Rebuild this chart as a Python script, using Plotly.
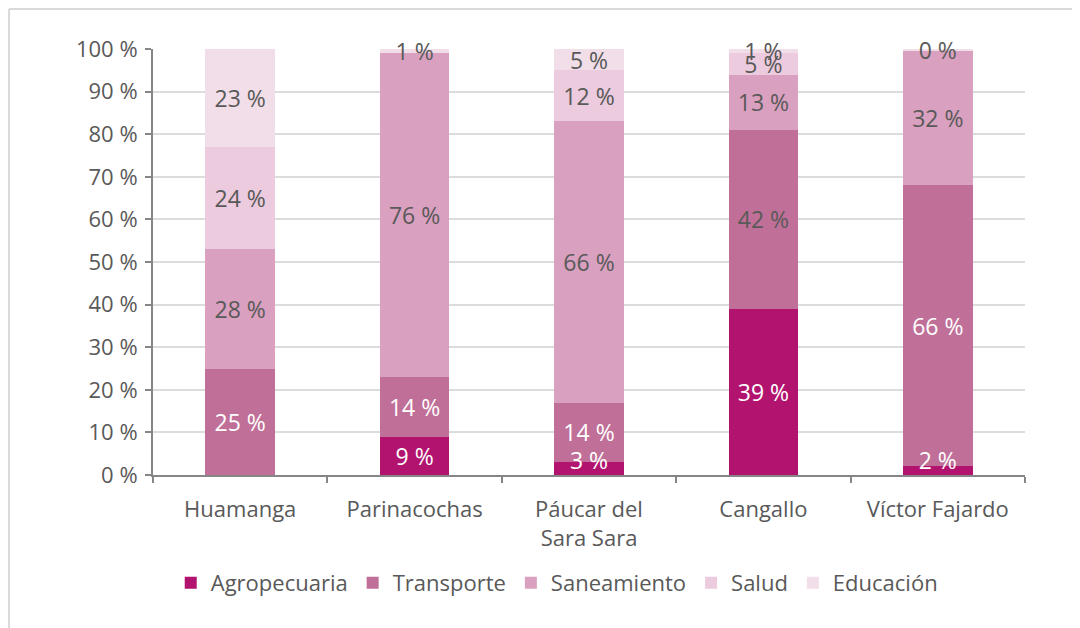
"""Inversión por sector y provincia: barras apiladas al 100 %."""

import plotly.graph_objects as go

PROVINCIAS = ["Huamanga", "Parinacochas", "Páucar del<br>Sara Sara", "Cangallo", "Víctor Fajardo"]
SECTORES = ["Agropecuaria", "Transporte", "Saneamiento", "Salud", "Educación"]

agropecuaria = [0, 9, 3, 39, 2]
transporte = [25, 14, 14, 42, 66]
saneamiento = [28, 76, 66, 13, 31.7]
salud = [24, 0, 12, 5, 0]
educacion = [23, 1, 5, 1, 0.3]

COLORES = ["#B2136F", "#C07098", "#D9A0BF", "#EBCBDD", "#F2DEE8"]
GRIS = "#595959"
FUENTE = "Open Sans"

series = [agropecuaria, transporte, saneamiento, salud, educacion]

# Which labels are drawn (one row per sector) and in which colour.
mostrar = [
    [False, True, True, True, True],
    [True, True, True, True, True],
    [True, True, True, True, True],
    [True, False, True, True, False],
    [True, True, True, True, True],
]
color_texto = [
    ["white"] * 5,
    ["white", "white", "white", GRIS, "white"],
    [GRIS] * 5,
    [GRIS] * 5,
    [GRIS] * 5,
]

# thin bottom segments: label sits on the axis instead of centred
PEQUENO = 5
base_pequena = [
    bool(ok and 0 < v < PEQUENO) for v, ok in zip(agropecuaria, mostrar[0])
]

fig = go.Figure()
for i, (nombre, valores, color, visibles, colores_txt) in enumerate(
    zip(SECTORES, series, COLORES, mostrar, color_texto)
):
    textos = []
    for j, (v, ok) in enumerate(zip(valores, visibles)):
        if not ok or (i == 0 and base_pequena[j]):
            textos.append("")
        else:
            textos.append(f"{round(v)} %")
    fig.add_trace(
        go.Bar(
            name=nombre,
            x=PROVINCIAS,
            y=valores,
            marker=dict(color=color, line=dict(width=0)),
            text=textos,
            texttemplate="%{text}",
            textposition="inside",
            insidetextanchor="middle",
            textangle=0,
            constraintext="none",
            cliponaxis=False,
            textfont=dict(family=FUENTE, color=colores_txt, size=23),
            hoverinfo="skip",
        )
    )

fig.add_trace(
    go.Scatter(
        x=PROVINCIAS,
        y=[0] * len(PROVINCIAS),
        mode="text",
        text=[f"{round(v)} %" if p else "" for v, p in zip(agropecuaria, base_pequena)],
        textposition="top center",
        textfont=dict(family=FUENTE, color="white", size=23),
        cliponaxis=False,
        showlegend=False,
        hoverinfo="skip",
    )
)

# the page adds an 8px body margin, margins below compensate for it
fig.update_layout(
    barmode="stack",
    bargap=0.6,
    width=1080,
    height=628,
    margin=dict(l=145, r=63, t=41, b=161),
    paper_bgcolor="white",
    plot_bgcolor="white",
    font=dict(family=FUENTE, size=22, color=GRIS),
    uniformtext=dict(mode="show", minsize=23),
    showlegend=True,
    legend=dict(
        orientation="h",
        x=0.463,
        xanchor="center",
        y=-0.2535,
        yanchor="middle",
        font=dict(family=FUENTE, size=22, color=GRIS),
        traceorder="normal",
        itemclick=False,
    ),
    shapes=[
        dict(type="line", xref="paper", yref="paper", x0=-0.1651, x1=1.08, y0=1.094, y1=1.094,
             line=dict(color="#d9d9d9", width=2)),
        dict(type="line", xref="paper", yref="paper", x0=-0.1651, x1=-0.1651, y0=1.094, y1=-0.38,
             line=dict(color="#d9d9d9", width=2)),
    ],
)

fig.update_yaxes(
    range=[0, 100],
    dtick=10,
    ticksuffix=" %",
    showgrid=True,
    gridcolor="#dcdcdc",
    gridwidth=2,
    showline=True,
    linecolor="#868686",
    linewidth=2,
    ticks="outside",
    ticklen=6,
    tickcolor="#868686",
    tickwidth=2,
    tickfont=dict(size=22, color=GRIS),
    ticklabelstandoff=3,
    zeroline=False,
    fixedrange=True,
)
fig.update_xaxes(
    showline=True,
    linecolor="#868686",
    linewidth=2,
    ticks="outside",
    tickson="boundaries",
    ticklen=6,
    tickcolor="#868686",
    tickwidth=2,
    tickfont=dict(size=22, color=GRIS),
    ticklabelstandoff=14,
    fixedrange=True,
)

fig.write_html("out.html")
